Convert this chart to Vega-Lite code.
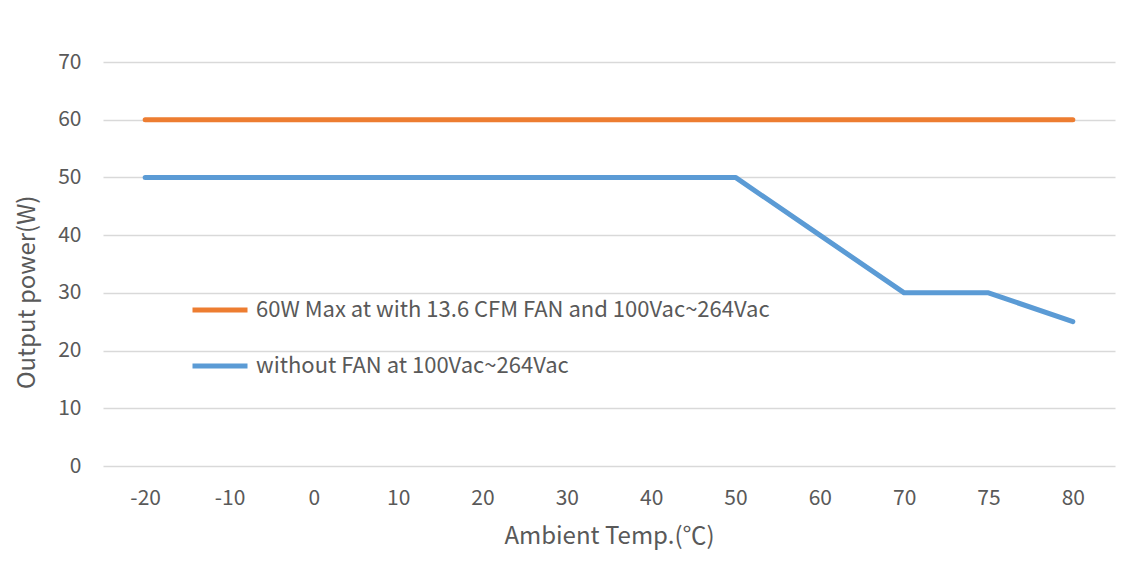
{
  "$schema": "https://vega.github.io/schema/vega-lite/v6.json",
  "autosize": "none",
  "width": 1012,
  "height": 404,
  "padding": {"left": 103, "top": 62, "right": 10, "bottom": 95},
  "background": "white",
  "config": {
    "font": "Noto Sans CJK SC",
    "view": {"stroke": null},
    "axis": {"labelColor": "#595959", "titleColor": "#595959", "labelFontSize": 21, "titleFontSize": 24, "titleFontWeight": "normal", "labelFont": "Noto Sans CJK SC", "titleFont": "Noto Sans CJK SC"}
  },
  "data": {
    "values": [
      {"t": -20, "p": 60, "s": "60W Max at with 13.6 CFM FAN and 100Vac~264Vac"},
      {"t": -10, "p": 60, "s": "60W Max at with 13.6 CFM FAN and 100Vac~264Vac"},
      {"t": 0, "p": 60, "s": "60W Max at with 13.6 CFM FAN and 100Vac~264Vac"},
      {"t": 10, "p": 60, "s": "60W Max at with 13.6 CFM FAN and 100Vac~264Vac"},
      {"t": 20, "p": 60, "s": "60W Max at with 13.6 CFM FAN and 100Vac~264Vac"},
      {"t": 30, "p": 60, "s": "60W Max at with 13.6 CFM FAN and 100Vac~264Vac"},
      {"t": 40, "p": 60, "s": "60W Max at with 13.6 CFM FAN and 100Vac~264Vac"},
      {"t": 50, "p": 60, "s": "60W Max at with 13.6 CFM FAN and 100Vac~264Vac"},
      {"t": 60, "p": 60, "s": "60W Max at with 13.6 CFM FAN and 100Vac~264Vac"},
      {"t": 70, "p": 60, "s": "60W Max at with 13.6 CFM FAN and 100Vac~264Vac"},
      {"t": 75, "p": 60, "s": "60W Max at with 13.6 CFM FAN and 100Vac~264Vac"},
      {"t": 80, "p": 60, "s": "60W Max at with 13.6 CFM FAN and 100Vac~264Vac"},
      {"t": -20, "p": 50, "s": "without FAN at 100Vac~264Vac"},
      {"t": -10, "p": 50, "s": "without FAN at 100Vac~264Vac"},
      {"t": 0, "p": 50, "s": "without FAN at 100Vac~264Vac"},
      {"t": 10, "p": 50, "s": "without FAN at 100Vac~264Vac"},
      {"t": 20, "p": 50, "s": "without FAN at 100Vac~264Vac"},
      {"t": 30, "p": 50, "s": "without FAN at 100Vac~264Vac"},
      {"t": 40, "p": 50, "s": "without FAN at 100Vac~264Vac"},
      {"t": 50, "p": 50, "s": "without FAN at 100Vac~264Vac"},
      {"t": 60, "p": 40, "s": "without FAN at 100Vac~264Vac"},
      {"t": 70, "p": 30, "s": "without FAN at 100Vac~264Vac"},
      {"t": 75, "p": 30, "s": "without FAN at 100Vac~264Vac"},
      {"t": 80, "p": 25, "s": "without FAN at 100Vac~264Vac"}
    ]
  },
  "mark": {"type": "line", "strokeWidth": 5, "strokeCap": "round", "strokeJoin": "round"},
  "encoding": {
    "x": {
      "field": "t", "type": "ordinal", "title": "Ambient Temp.(℃)",
      "scale": {"type": "point", "padding": 0.5},
      "axis": {"labelAngle": 0, "domain": false, "ticks": false, "labelPadding": 21, "titlePadding": 16}
    },
    "y": {
      "field": "p", "type": "quantitative", "title": "Output power(W)",
      "scale": {"domain": [0, 70]},
      "axis": {"values": [0, 10, 20, 30, 40, 50, 60, 70], "domain": false, "ticks": false, "gridColor": "#d9d9d9", "gridWidth": 1.5, "labelPadding": 22, "titlePadding": 18, "titleY": 230}
    },
    "color": {
      "field": "s", "type": "nominal",
      "scale": {"domain": ["60W Max at with 13.6 CFM FAN and 100Vac~264Vac", "without FAN at 100Vac~264Vac"], "range": ["#ED7D31", "#5B9BD5"]},
      "legend": {
        "title": null, "orient": "none", "legendX": 87, "legendY": 218,
        "symbolType": "stroke", "symbolSize": 3025, "symbolStrokeWidth": 5,
        "labelFont": "Noto Sans CJK SC", "labelFontSize": 22, "labelColor": "#595959", "labelLimit": 900, "labelOffset": 6,
        "rowPadding": 15
      }
    }
  }
}
